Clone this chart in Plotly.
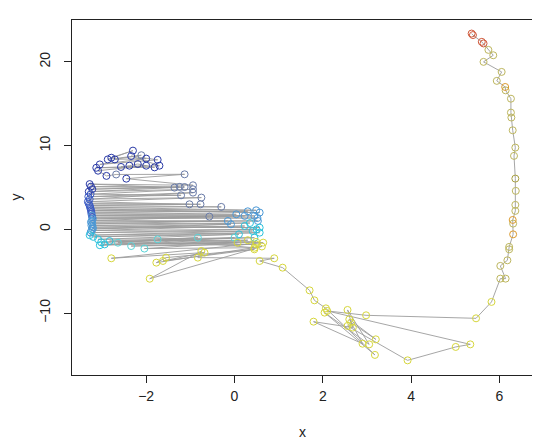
import plotly.graph_objects as go

# --- trajectory, in data units, in drawing order ---

# top swirl of the path (dark blue)
swirl_x = [-2.79, -2.30, -2.87, -2.11, -2.71, -2.00, -3.05, -1.74, -2.34, -1.70,
           -3.13, -1.81, -2.19, -2.38, -2.57, -2.00, -3.09, -2.90, -2.68, -1.13]
swirl_y = [8.55, 9.40, 8.35, 8.85, 8.35, 8.45, 7.75, 8.30, 8.75, 7.60,
           7.35, 7.40, 7.80, 7.60, 7.45, 7.60, 7.00, 6.38, 6.55, 6.57]
swirl_c = ["navy", "navy", "navy", "slate", "navy", "navy", "navy", "navy", "navy", "navy",
           "navy", "navy", "navy", "navy", "navy", "navy", "navy", "navy", "slate", "slate"]

# zig-zag rows of the left cluster: left end, then right end
row_left_x = [-2.45, -3.28, -3.25, -3.22, -3.30, -3.26, -3.31, -3.28, -3.32, -3.30,
              -3.28, -3.27, -3.26, -3.25, -3.24, -3.24, -3.23, -3.22, -3.21, -3.23,
              -3.25, -3.22, -3.24, -3.21, -3.21, -3.24, -3.26, -3.28, -3.20,
              -3.09, -3.02, -3.05, -2.94, -2.83, -2.64, -2.34, -2.04]
row_left_y = [6.05, 5.40, 5.10, 4.80, 4.50, 4.20, 3.90, 3.60, 3.30, 3.05,
              2.85, 2.65, 2.45, 2.25, 2.05, 1.85, 1.65, 1.45, 1.25, 1.05,
              0.85, 0.65, 0.45, 0.25, 0.05, -0.15, -0.40, -0.70, -0.90,
              -1.20, -1.55, -1.90, -1.80, -1.40, -1.60, -2.00, -2.30]
row_right_x = [-0.94, -1.36, -1.24, -1.13, -0.94, -1.21, -0.94, -0.75, -1.02, -0.77,
               -0.30, 0.49, 0.57, 0.30, 0.04, 0.45, -0.57, 0.52, 0.23, 0.53,
               -0.15, 0.35, 0.57, -0.08, 0.23, 0.50, 0.41, 0.57, 0.10,
               0.45, 0.00, 0.49, 0.30, -0.83, 0.49, 0.07, 0.45]
row_right_y = [5.26, 4.98, 5.07, 5.05, 4.78, 4.06, 4.38, 3.79, 2.99, 2.99,
               2.68, 2.27, 2.00, 2.15, 1.79, 1.60, 1.52, 1.35, 1.60, 1.00,
               1.00, 0.75, 0.20, 0.60, 0.40, 0.00, -0.20, -0.40, -0.60,
               -1.00, -1.00, -1.50, -1.30, -1.00, -1.80, -1.60, -2.20]
row_left_c = ["navy", "navy", "navy", "navy", "navy", "blue", "blue", "blue", "blue", "blue",
              "blue", "blue", "blue", "blue", "blue", "blue", "sky", "blue", "sky", "sky",
              "sky", "sky", "sky", "sky", "sky", "sky", "sky", "cyan", "cyan",
              "cyan", "cyan", "cyan", "cyan", "cyan", "aqua", "aqua", "aqua"]
row_right_c = ["slate", "slate", "slate", "slate", "slate", "slate", "slate", "slate", "slate", "slate",
               "slate", "sky", "sky", "sky", "sky", "sky", "slate", "sky", "sky", "sky",
               "sky", "cyan", "cyan", "sky", "cyan", "cyan", "cyan", "cyan", "cyan",
               "cyan", "aqua", "yellow", "yellow", "aqua", "yellow", "yellow", "yellow"]

# yellow points below the cluster
low_x = [-1.74, 0.65, -2.79, -0.68, -1.62, 0.45, -1.55, -1.77, 0.62, -1.92,
         -0.75, -0.83, 0.90, 0.57, 1.09]
low_y = [-1.20, -1.59, -3.46, -2.78, -3.78, -2.39, -3.38, -3.98, -2.05, -5.90,
         -2.59, -3.38, -3.46, -3.78, -4.58]
low_c = ["aqua", "yellow", "yellow", "yellow", "yellow", "yellow", "yellow", "yellow", "yellow", "yellow",
         "yellow", "yellow", "yellow", "yellow", "yellow"]

# tangle in the lower middle
mid_x = [1.70, 1.81, 2.07, 3.18, 2.04, 3.05, 2.56, 2.68, 1.79, 2.90,
         2.60, 3.20, 2.64, 2.56, 3.92, 5.01, 5.34, 2.10, 2.98, 5.47, 5.82]
mid_y = [-7.29, -8.48, -9.44, -15.00, -9.95, -13.74, -9.63, -11.74, -11.03, -13.66,
         -10.75, -13.14, -11.15, -11.54, -15.65, -14.05, -13.74, -9.75, -10.27, -10.63, -8.67]
mid_c = ["yellow"] * len(mid_x)

# arc up the right side
arc_x = [6.02, 6.14, 6.02, 6.18, 6.22, 6.22, 6.31, 6.31, 6.30, 6.36,
         6.36, 6.37, 6.36, 6.33, 6.36, 6.30, 6.27, 6.26, 6.26, 6.14,
         6.13, 5.94, 6.05, 5.64, 5.86, 5.75, 5.64, 5.60, 5.40, 5.37]
arc_y = [-5.89, -5.89, -4.37, -3.70, -2.39, -2.10, -0.60, 0.68, 1.12, 2.20,
         2.92, 4.59, 6.06, 8.77, 9.76, 11.83, 13.35, 13.94, 15.60, 16.60,
         17.00, 17.73, 18.80, 20.00, 20.79, 21.43, 22.20, 22.39, 23.20, 23.38]
arc_c = ["olive", "olive", "olive", "olive", "olive", "olive", "orange", "olive", "orange", "olive",
         "olive", "olive", "khaki", "olive", "olive", "olive", "olive", "olive", "olive", "olive",
         "orange", "olive", "olive", "olive", "olive", "olive", "red", "red", "red", "red"]

PALETTE = {
    "navy": "#2a3aa6", "blue": "#3c5cc4", "slate": "#6a7ca8", "sky": "#4a98d6",
    "cyan": "#2cc2dc", "aqua": "#5ad4d8", "yellow": "#d6d63c", "olive": "#bdb65e",
    "khaki": "#a8a040", "orange": "#dc9a2c", "red": "#d05a3c",
}

xs, ys, cs = list(swirl_x), list(swirl_y), list(swirl_c)
for i in range(len(row_left_x)):
    xs += [row_left_x[i], row_right_x[i]]
    ys += [row_left_y[i], row_right_y[i]]
    cs += [row_left_c[i], row_right_c[i]]
for sx, sy, sc in [(low_x, low_y, low_c), (mid_x, mid_y, mid_c), (arc_x, arc_y, arc_c)]:
    xs += sx
    ys += sy
    cs += sc

fig = go.Figure()
fig.add_trace(go.Scatter(x=xs, y=ys, mode="lines",
                         line=dict(color="#9c9c9c", width=0.9), hoverinfo="skip"))
fig.add_trace(go.Scatter(x=xs, y=ys, mode="markers",
                         marker=dict(symbol="circle-open", size=7,
                                     color=[PALETTE[c] for c in cs],
                                     line=dict(width=1))))

axis_common = dict(showgrid=False, zeroline=False, showline=True, mirror=True,
                   linecolor="#222", linewidth=1, ticks="outside", ticklen=7,
                   tickcolor="#222", tickfont=dict(size=14, color="#222"),
                   automargin=False)
fig.update_layout(
    width=540, height=444,
    margin=dict(l=64, r=15, t=12, b=77),
    paper_bgcolor="white", plot_bgcolor="white",
    font=dict(family="Liberation Sans, Arial, sans-serif", size=14, color="#222"),
    showlegend=False,
    xaxis=dict(range=[-3.68, 6.76], tickvals=[-2, 0, 2, 4, 6], ticklabelstandoff=1,
               **axis_common),
    yaxis=dict(range=[-17.4, 25.0], tickvals=[-10, 0, 10, 20], tickangle=-90,
               ticklabelstandoff=8, **axis_common),
)

# axis titles placed like R's mtext lines
fig.add_annotation(text="x", xref="paper", yref="paper", x=0.5, y=0,
                   xanchor="center", yanchor="middle", yshift=-57,
                   showarrow=False, font=dict(size=14))
fig.add_annotation(text="y", xref="paper", yref="paper", x=0, y=0.5,
                   xanchor="center", yanchor="middle", xshift=-57, textangle=-90,
                   showarrow=False, font=dict(size=14))

fig.write_html("out.html")
